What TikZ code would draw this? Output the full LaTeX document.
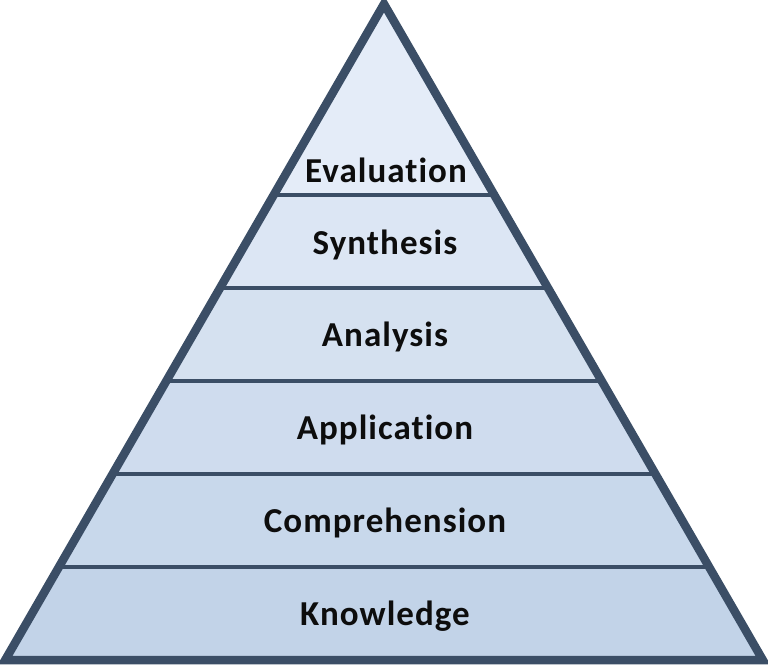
\documentclass[tikz,border=0pt]{standalone}
\usepackage{fontspec}
\setmainfont{Carlito}[LetterSpace=3,RawFeature=-liga]
\usetikzlibrary{calc}
\definecolor{edge}{HTML}{3B4E66}
\definecolor{bandA}{HTML}{E4ECF8}
\definecolor{bandB}{HTML}{DCE6F4}
\definecolor{bandC}{HTML}{D5E1F0}
\definecolor{bandD}{HTML}{CFDCEE}
\definecolor{bandE}{HTML}{C8D8EB}
\definecolor{bandF}{HTML}{C2D3E8}
\definecolor{txt}{HTML}{0D0D0D}
\tikzset{
  outline/.style={draw=edge, line width=8.5pt, line join=miter},
  divider/.style={draw=edge, line width=4.5pt},
  label/.style={anchor=base, inner sep=0pt, text=txt, font=\fontsize{35}{40}\selectfont\bfseries}
}
\begin{document}
\begin{tikzpicture}[x=1pt,y=-1pt]
\useasboundingbox (0,0) rectangle (768,665);
\clip (0,0) rectangle (768,665);
\coordinate (apex) at (384,4);
\coordinate (bl) at (5.2,660);
\coordinate (br) at (762.8,660);
\begin{scope}
  \clip (apex) -- (bl) -- (br) -- cycle;
  \fill[bandA] (0,0) rectangle (768,195);
  \fill[bandB] (0,195) rectangle (768,288);
  \fill[bandC] (0,288) rectangle (768,381);
  \fill[bandD] (0,381) rectangle (768,474);
  \fill[bandE] (0,474) rectangle (768,567);
  \fill[bandF] (0,567) rectangle (768,665);
\end{scope}
\foreach \y/\n in {195/1,288/2,381/3,474/4,567/5}{
  \coordinate (l\n) at ($(apex)!{(\y-4)/656}!(bl)$);
  \coordinate (r\n) at ($(apex)!{(\y-4)/656}!(br)$);
}
\draw[divider] (l1) -- (r1);
\draw[divider] (l2) -- (r2);
\draw[divider] (l3) -- (r3);
\draw[divider] (l4) -- (r4);
\draw[divider] (l5) -- (r5);
\draw[outline] (apex) -- (bl) -- (br) -- cycle;
\node[label] (evaluation) at (386,182) {Evaluation};
\node[label] (synthesis) at (385,254) {Synthesis};
\node[label] (analysis) at (385,346) {Analysis};
\node[label] (application) at (385,439) {Application};
\node[label] (comprehension) at (385,532) {Comprehension};
\node[label] (knowledge) at (385,625) {Knowledge};
\end{tikzpicture}
\end{document}
